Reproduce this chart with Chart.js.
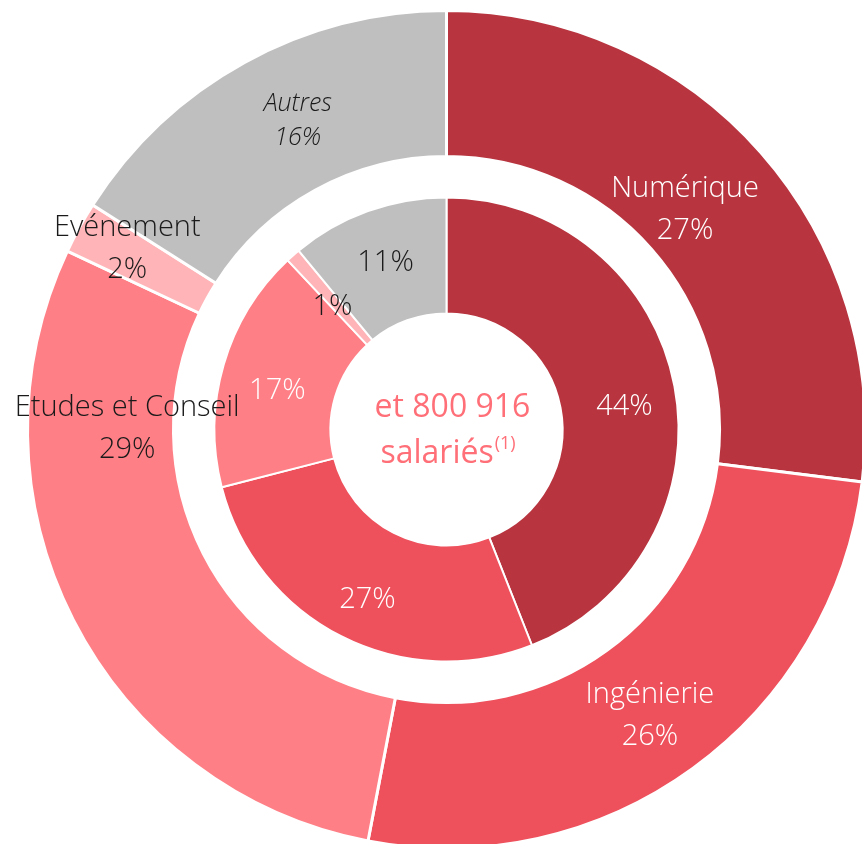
<!DOCTYPE html>
<html>
<head>
<meta charset="utf-8">
<script src="https://cdn.jsdelivr.net/npm/chart.js@4.4.1/dist/chart.umd.min.js"></script>
<style>
  html, body { margin: 0; padding: 0; background: #fff; overflow: hidden; }
  #wrap { width: 862px; height: 844px; overflow: hidden; }
</style>
</head>
<body>
<div id="wrap"><canvas id="donut" width="870" height="860"></canvas></div>
<script>
// données (anneau extérieur / anneau intérieur)
var categories = ['Numérique', 'Ingénierie', 'Etudes et Conseil', 'Evénement', 'Autres'];
var outerValues = [27, 26, 29, 2, 16];
var innerValues = [44, 27, 17, 1, 11];
var centerLines = ['et 800 916', 'salariés'];

// couleurs
var colors = ['#B8343F', '#EE505C', '#FF7F86', '#FFB5B8', '#BFBFBF'];
var FONT = '"Open Sans", "Noto Sans", sans-serif';

// réglages des étiquettes (décalage en px depuis le centre de l'arc)
var outerLabelStyle = [
  { color: '#ffffff', dx: -21, dy: 9 },
  { color: '#ffffff', dx: 0, dy: 6 },
  { color: '#1a1a1a', dx: -11, dy: -158 },
  { color: '#1a1a1a', dx: -16, dy: -14 },
  { color: '#1a1a1a', dx: 18, dy: -5, italic: true, size: 25 }
];
var innerLabelStyle = [
  { color: '#ffffff', dx: 7, dy: 10 },
  { color: '#ffffff', dx: 0, dy: 15 },
  { color: '#ffffff', dx: -2, dy: 10 },
  { color: '#1a1a1a', dx: 1, dy: 8 },
  { color: '#1a1a1a', dx: -2, dy: -3 }
];

var labelPlugin = {
  id: 'labels',
  afterDatasetsDraw: function(chart) {
    var ctx = chart.ctx;
    ctx.save();
    ctx.textAlign = 'center';
    ctx.textBaseline = 'middle';

    // anneau extérieur
    chart.getDatasetMeta(0).data.forEach(function(arc, i) {
      var st = outerLabelStyle[i];
      var p = arc.tooltipPosition();
      var size = st.size || 29;
      ctx.fillStyle = st.color;
      ctx.font = (st.italic ? 'italic ' : '') + '300 ' + size + 'px ' + FONT;
      var gap = st.italic ? 17 : 21;
      ctx.fillText(categories[i], p.x + st.dx, p.y + st.dy - gap);
      ctx.fillText(outerValues[i] + '%', p.x + st.dx, p.y + st.dy + gap);
    });

    // anneau intérieur
    chart.getDatasetMeta(2).data.forEach(function(arc, i) {
      var st = innerLabelStyle[i];
      var p = arc.tooltipPosition();
      ctx.fillStyle = st.color;
      ctx.font = '300 29px ' + FONT;
      ctx.fillText(innerValues[i] + '%', p.x + st.dx, p.y + st.dy);
    });

    // texte central
    var a = chart.getDatasetMeta(2).data[0];
    var cx = a.x, cy = a.y;
    ctx.fillStyle = '#FF6F78';
    ctx.font = '400 32px ' + FONT;
    ctx.fillText(centerLines[0], cx + 6, cy - 22);
    var w1 = ctx.measureText(centerLines[1]).width;
    ctx.font = '400 18px ' + FONT;
    var w2 = ctx.measureText('(1)').width;
    var x0 = cx + 1 - (w1 + w2) / 2;
    ctx.textAlign = 'left';
    ctx.font = '400 32px ' + FONT;
    ctx.fillText(centerLines[1], x0, cy + 24);
    ctx.font = '400 18px ' + FONT;
    ctx.fillText('(1)', x0 + w1 + 1, cy + 14);
    ctx.restore();
  }
};

var canvas = document.getElementById('donut').getContext('2d');
new Chart(canvas, {
  type: 'doughnut',
  data: {
    labels: categories,
    datasets: [
      {
        data: outerValues,
        backgroundColor: colors,
        borderColor: '#ffffff',
        borderWidth: 3,
        weight: 146
      },
      {
        // espace blanc entre les deux anneaux
        data: [1],
        backgroundColor: 'rgba(0,0,0,0)',
        borderWidth: 0,
        weight: 41
      },
      {
        data: innerValues,
        backgroundColor: colors,
        borderColor: '#ffffff',
        borderWidth: 2,
        weight: 116
      }
    ]
  },
  options: {
    responsive: false,
    animation: false,
    cutout: '27.7%',
    layout: { padding: { left: 26, top: 9, right: 3, bottom: 10 } },
    plugins: {
      legend: { display: false },
      tooltip: { enabled: false }
    }
  },
  plugins: [labelPlugin]
});
</script>
</body>
</html>
